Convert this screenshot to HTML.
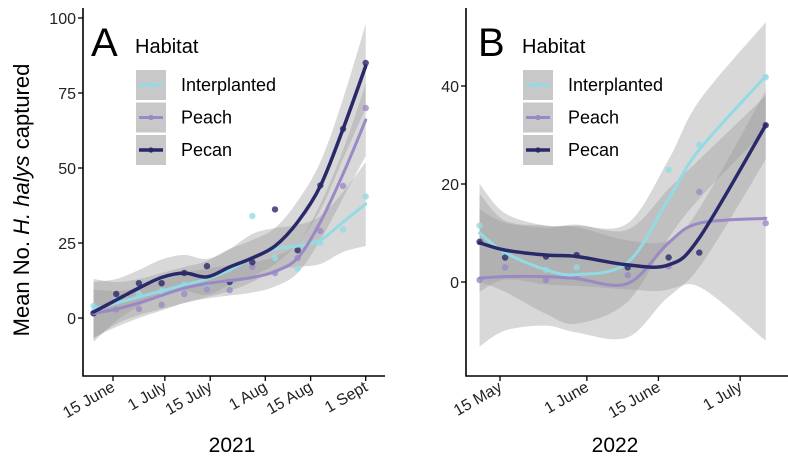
<!DOCTYPE html>
<html><head><meta charset="utf-8"><style>
body{margin:0;background:#fff}
svg{display:block;font-family:"Liberation Sans",Arial,sans-serif}
</style></head><body>
<svg id="c" width="788" height="463" viewBox="0 0 788 463"></svg>
<script>
// Panel A (2021): days after 15 June
const daysA=[-6,1,8,15,22,29,36,43,50,57,64,71,78];
const interA=[3,5,7,9,11,13,16,20,23,24,26,32,38];
const peachA=[1.5,3,5,7.5,10,11.5,12.5,13.5,15.5,20,32,48,66];
const pecanA=[2,6,10,13.5,15,13.7,17,20,24,32,44,63,84];
const interAw=[10,7,6,6,6,6,7,8,7,7,8,10,14];
const peachAw=[8,6,5,5,5,5,5,5,5,5,6,8,12];
const pecanAw=[10,7,6,6,6,6,6,6,6,7,8,10,14];
const interAp=[4,6,8,9,11,10,12,34,20,16.5,25,29.5,40.5];
const peachAp=[1.6,2.8,3,4.4,8,9.6,9.3,17,15,20,29,44,70];
const pecanAp=[1.6,8,11.6,11.6,15,17.3,12,18.6,36.2,22.6,44.2,63,85];
const ticksA=[0,16,30,47,61,78];
const tickLabA=["15 June","1 July","15 July","1 Aug","15 Aug","1 Sept"];
const yTicksA=[0,25,50,75,100];
// Panel B (2022): days after 15 May
const daysB=[-4,1,9,15,25,33,39,52];
const interB=[10,6,2.5,1.5,4,17,27,42];
const peachB=[0.8,1.1,1.1,0.7,-0.3,8,12,13];
const pecanB=[8,6.5,5.5,5.2,3.5,3.5,9,32];
const interBw=[10,8,9,10,8,8,10,11];
const peachBw=[14,11,10,11,11,11,13,25];
const pecanBw=[10,6,6,6,5,5,6,7];
const interBp=[11.5,5.5,2.5,3,3.3,22.9,28,41.8];
const peachBp=[0.4,3,0.4,1,1.4,3.2,18.4,12];
const pecanBp=[8.2,5,5.2,5.5,3,5,6,32];
const ticksB=[0,17,31,47];
const tickLabB=["15 May","1 June","15 June","1 July"];
const yTicksB=[0,20,40];

const NS="http://www.w3.org/2000/svg";
const svg=document.getElementById('c');
function mk(t,a,p){const e=document.createElementNS(NS,t);for(const k in a)e.setAttribute(k,a[k]);(p||svg).appendChild(e);return e;}
function smooth(pts){let d="M"+pts[0][0]+","+pts[0][1];for(let i=0;i<pts.length-1;i++){const p0=pts[i-1]||pts[i],p1=pts[i],p2=pts[i+1],p3=pts[i+2]||p2;
d+=` C${p1[0]+(p2[0]-p0[0])/6},${p1[1]+(p2[1]-p0[1])/6} ${p2[0]-(p3[0]-p1[0])/6},${p2[1]-(p3[1]-p1[1])/6} ${p2[0]},${p2[1]}`;}return d;}
const COL={inter:"#93dbe4",peach:"#9b89c6",pecan:"#28286a"};

function panel(o){
  const g=mk('g',{});
  
  
  o.series.forEach(s=>{
    const up=o.days.map((d,i)=>[o.x(d),o.y(s.v[i]+s.w[i])]);
    const lo=o.days.map((d,i)=>[o.x(d),o.y(s.v[i]-s.w[i])]).reverse();
    const p=mk('path',{d:smooth(up)+" L"+smooth(lo).slice(1)+" Z",fill:"#999",'fill-opacity':0.38},g);
    
    
  });
  o.series.forEach(s=>{
    s.p.forEach((v,i)=>{const c=mk('circle',{cx:o.x(o.days[i]),cy:o.y(v),r:3.2,fill:COL[s.key],'fill-opacity':0.8},g);
      
      });
  });
  o.series.forEach(s=>{
    const l=mk('path',{d:smooth(o.days.map((d,i)=>[o.x(d),o.y(s.v[i])])),fill:"none",stroke:COL[s.key],'stroke-width':s.key=='pecan'?3.5:3,'stroke-linecap':'round'},g);
    
    
  });
  const ax=mk('path',{d:`M${o.x0},8 V376 H${o.x1}`,fill:"none",stroke:"#000",'stroke-width':1.6},g);
  
  
  o.yt.forEach(v=>{mk('line',{x1:o.x0-5,x2:o.x0,y1:o.y(v),y2:o.y(v),stroke:"#000",'stroke-width':1.3},g);
    const t=mk('text',{x:o.x0-7,y:o.y(v)+6,'text-anchor':'end','font-size':16,fill:"#222"},g);t.textContent=v;
    
    });
  o.xt.forEach((d,i)=>{const X=o.x(d);mk('line',{x1:X,x2:X,y1:376,y2:381,stroke:"#000",'stroke-width':1.3},g);
    const t=mk('text',{x:X+3,y:390,'text-anchor':'end','font-size':16,fill:"#222",transform:`rotate(-30 ${X+3} 390)`},g);t.textContent=o.xl[i];
    
    });
  const yr=mk('text',{x:o.yrx,y:452,'text-anchor':'middle','font-size':21,fill:"#000"},g);yr.textContent=o.year;
  
  
  const L=mk('text',{x:o.lx-44,y:56,'font-size':40,fill:"#000"},g);L.textContent=o.letter;
  
  
  const H=mk('text',{x:o.lx,y:53,'font-size':20,fill:"#000"},g);H.textContent="Habitat";
  
  
  [["inter","Interplanted"],["peach","Peach"],["pecan","Pecan"]].forEach((k,i)=>{
    const yy=70+i*32.5;
    const lg=mk('g',{},g);
    
    
    mk('rect',{x:o.lx+1,y:yy,width:30,height:30,fill:"#c8c8c8"},lg);
    mk('line',{x1:o.lx+4,x2:o.lx+28,y1:yy+15,y2:yy+15,stroke:COL[k[0]],'stroke-width':k[0]=='pecan'?3.5:3},lg);
    mk('circle',{cx:o.lx+16,cy:yy+15,r:2.6,fill:COL[k[0]]},lg);
    const t=mk('text',{x:o.lx+46,y:yy+21,'font-size':18,fill:"#000"},lg);t.textContent=k[1];
  });
}
panel({name:'panel-a-2021',x:d=>113+3.24*d,y:v=>318-3*v,x0:83,x1:385,days:daysA,
  series:[{key:'inter',v:interA,w:interAw,p:interAp},{key:'peach',v:peachA,w:peachAw,p:peachAp},{key:'pecan',v:pecanA,w:pecanAw,p:pecanAp}],
  yt:yTicksA,xt:ticksA,xl:tickLabA,year:"2021",yrx:232,lx:135,letter:"A"});
panel({name:'panel-b-2022',x:d=>500+5.11*d,y:v=>282-4.9*v,x0:466,x1:788,days:daysB,
  series:[{key:'inter',v:interB,w:interBw,p:interBp},{key:'peach',v:peachB,w:peachBw,p:peachBp},{key:'pecan',v:pecanB,w:pecanBw,p:pecanBp}],
  yt:yTicksB,xt:ticksB,xl:tickLabB,year:"2022",yrx:615,lx:522,letter:"B"});
const yt=mk('text',{x:0,y:0,'font-size':22,'text-anchor':'middle',fill:"#000",transform:"translate(29,200) rotate(-90)"});
yt.innerHTML='Mean No. <tspan font-style="italic">H. halys</tspan> captured';


</script>
</body></html>
